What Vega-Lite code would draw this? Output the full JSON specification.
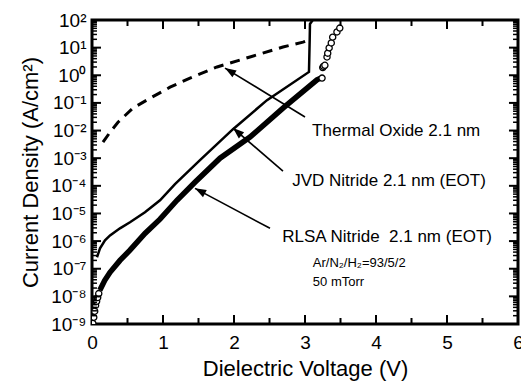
{
  "$schema": "https://vega.github.io/schema/vega-lite/v6.json",
  "width": 426,
  "height": 304,
  "autosize": {"type": "none"},
  "padding": {"left": 92, "top": 20, "right": 3, "bottom": 57},
  "background": "white",
  "config": {
    "font": "Liberation Sans",
    "view": {"stroke": "black", "strokeWidth": 3},
    "axis": {
      "domain": false,
      "ticks": false,
      "labelColor": "black",
      "titleColor": "black",
      "labelFont": "Liberation Sans",
      "titleFont": "Liberation Sans",
      "titleFontWeight": "normal",
      "grid": false
    }
  },
  "datasets": {
    "thermal": [
      {"v": 0.155, "j": 0.0038},
      {"v": 0.254, "j": 0.0087},
      {"v": 0.366, "j": 0.020},
      {"v": 0.577, "j": 0.065},
      {"v": 0.817, "j": 0.148},
      {"v": 1.099, "j": 0.37},
      {"v": 1.380, "j": 0.79},
      {"v": 1.761, "j": 2.0},
      {"v": 2.225, "j": 4.6},
      {"v": 2.690, "j": 10.5},
      {"v": 2.972, "j": 15.8},
      {"v": 3.05, "j": 18.6}
    ],
    "jvd": [
      {"v": 0.070, "j": 2.6e-7},
      {"v": 0.113, "j": 5.5e-7},
      {"v": 0.183, "j": 1.07e-6},
      {"v": 0.254, "j": 1.6e-6},
      {"v": 0.394, "j": 2.9e-6},
      {"v": 0.535, "j": 4.8e-6},
      {"v": 0.746, "j": 1.1e-5},
      {"v": 0.958, "j": 3.0e-5},
      {"v": 1.169, "j": 1.15e-4},
      {"v": 1.521, "j": 8.5e-4},
      {"v": 1.986, "j": 1.12e-2},
      {"v": 2.465, "j": 0.126},
      {"v": 3.056, "j": 1.32},
      {"v": 3.066, "j": 19},
      {"v": 3.07, "j": 72},
      {"v": 3.11, "j": 100}
    ],
    "rlsa": [
      {"v": 0.11, "j": 1.66e-8},
      {"v": 0.18, "j": 3.8e-8},
      {"v": 0.254, "j": 7.4e-8},
      {"v": 0.394, "j": 2.0e-7},
      {"v": 0.535, "j": 4.7e-7},
      {"v": 0.746, "j": 1.9e-6},
      {"v": 0.958, "j": 6.2e-6},
      {"v": 1.197, "j": 3.0e-5},
      {"v": 1.45, "j": 1.35e-4},
      {"v": 1.803, "j": 1.0e-3},
      {"v": 2.225, "j": 5.8e-3},
      {"v": 2.690, "j": 6.5e-2},
      {"v": 3.169, "j": 0.68},
      {"v": 3.22, "j": 0.79}
    ],
    "rlsaPts": [
      {"v": 0.012, "j": 1.05e-9},
      {"v": 0.025, "j": 1.74e-9},
      {"v": 0.038, "j": 2.9e-9},
      {"v": 0.05, "j": 4.7e-9},
      {"v": 0.065, "j": 6.6e-9},
      {"v": 0.08, "j": 9.1e-9},
      {"v": 0.095, "j": 1.26e-8},
      {"v": 3.24, "j": 0.79},
      {"v": 3.25, "j": 1.9},
      {"v": 3.26, "j": 2.1},
      {"v": 3.28, "j": 2.3},
      {"v": 3.31, "j": 4.6},
      {"v": 3.32, "j": 6.3},
      {"v": 3.34, "j": 9.8},
      {"v": 3.37, "j": 14.8},
      {"v": 3.39, "j": 24},
      {"v": 3.45, "j": 37},
      {"v": 3.49, "j": 51}
    ],
    "notes": [
      {"v": 3.10, "j": 1.0e-2, "text": "Thermal Oxide 2.1 nm"},
      {"v": 2.82, "j": 1.5e-4, "text": "JVD Nitride 2.1 nm (EOT)"},
      {"v": 2.68, "j": 1.4e-6, "text": "RLSA Nitride\u00a0 2.1 nm (EOT)"}
    ],
    "smallNotes": [
      {"v": 3.11, "j": 1.6e-7, "text": "Ar/N₂/H₂=93/5/2"},
      {"v": 3.11, "j": 3.2e-8, "text": "50 mTorr"}
    ],
    "arrows": [
      {"name": "thermal", "v": 3.0, "j": 0.031, "v2": 1.873, "j2": 1.82},
      {"name": "jvd", "v": 2.69, "j": 3.4e-4, "v2": 1.986, "j2": 1.23e-2},
      {"name": "rlsa", "v": 2.507, "j": 2.9e-6, "v2": 1.451, "j2": 8.1e-5}
    ],
    "voltTicksMajor": [{"v": 1}, {"v": 2}, {"v": 3}, {"v": 4}, {"v": 5}],
    "voltTicksMinor": [{"v": 0.5}, {"v": 1.5}, {"v": 2.5}, {"v": 3.5}, {"v": 4.5}, {"v": 5.5}],
    "densTicksMajor": [
      {"j": 1e-8}, {"j": 1e-7}, {"j": 1e-6}, {"j": 1e-5}, {"j": 1e-4},
      {"j": 1e-3}, {"j": 1e-2}, {"j": 1e-1}, {"j": 1}, {"j": 10}
    ],
    "densTicksMinor": [
      {"j": 2e-9}, {"j": 3e-9}, {"j": 4e-9}, {"j": 5e-9}, {"j": 6e-9}, {"j": 7e-9}, {"j": 8e-9}, {"j": 9e-9},
      {"j": 2e-8}, {"j": 3e-8}, {"j": 4e-8}, {"j": 5e-8}, {"j": 6e-8}, {"j": 7e-8}, {"j": 8e-8}, {"j": 9e-8},
      {"j": 2e-7}, {"j": 3e-7}, {"j": 4e-7}, {"j": 5e-7}, {"j": 6e-7}, {"j": 7e-7}, {"j": 8e-7}, {"j": 9e-7},
      {"j": 2e-6}, {"j": 3e-6}, {"j": 4e-6}, {"j": 5e-6}, {"j": 6e-6}, {"j": 7e-6}, {"j": 8e-6}, {"j": 9e-6},
      {"j": 2e-5}, {"j": 3e-5}, {"j": 4e-5}, {"j": 5e-5}, {"j": 6e-5}, {"j": 7e-5}, {"j": 8e-5}, {"j": 9e-5},
      {"j": 2e-4}, {"j": 3e-4}, {"j": 4e-4}, {"j": 5e-4}, {"j": 6e-4}, {"j": 7e-4}, {"j": 8e-4}, {"j": 9e-4},
      {"j": 2e-3}, {"j": 3e-3}, {"j": 4e-3}, {"j": 5e-3}, {"j": 6e-3}, {"j": 7e-3}, {"j": 8e-3}, {"j": 9e-3},
      {"j": 2e-2}, {"j": 3e-2}, {"j": 4e-2}, {"j": 5e-2}, {"j": 6e-2}, {"j": 7e-2}, {"j": 8e-2}, {"j": 9e-2},
      {"j": 0.2}, {"j": 0.3}, {"j": 0.4}, {"j": 0.5}, {"j": 0.6}, {"j": 0.7}, {"j": 0.8}, {"j": 0.9},
      {"j": 2}, {"j": 3}, {"j": 4}, {"j": 5}, {"j": 6}, {"j": 7}, {"j": 8}, {"j": 9},
      {"j": 20}, {"j": 30}, {"j": 40}, {"j": 50}, {"j": 60}, {"j": 70}, {"j": 80}, {"j": 90}
    ]
  },
  "layer": [
    {
      "data": {"name": "jvd"},
      "mark": {"type": "line", "color": "black", "strokeWidth": 2.5, "clip": true},
      "encoding": {
        "x": {
          "field": "v", "type": "quantitative",
          "scale": {"domain": [0, 6], "nice": false, "zero": false},
          "axis": {
            "orient": "bottom",
            "values": [0, 1, 2, 3, 4, 5, 6],
            "format": "d",
            "labelFontSize": 19,
            "labelPadding": 9,
            "labelOverlap": false,
            "labelFlush": false,
            "title": "Dielectric Voltage (V)",
            "titleFontSize": 22,
            "titlePadding": 6
          }
        },
        "y": {
          "field": "j", "type": "quantitative",
          "scale": {"type": "log", "domain": [1e-9, 100], "nice": false},
          "axis": {
            "orient": "left",
            "values": [1e-9, 1e-8, 1e-7, 1e-6, 1e-5, 1e-4, 1e-3, 1e-2, 1e-1, 1, 10, 100],
            "labelExpr": "['10⁻⁹','10⁻⁸','10⁻⁷','10⁻⁶','10⁻⁵','10⁻⁴','10⁻³','10⁻²','10⁻¹','10⁰','10¹','10²'][round(log(datum.value)/LN10) + 9]",
            "labelFontSize": 19,
            "labelPadding": 6,
            "labelOverlap": false,
            "labelFlush": false,
            "title": "Current Density (A/cm²)",
            "titleFontSize": 22,
            "titlePadding": 8
          }
        }
      }
    },
    {
      "data": {"name": "thermal"},
      "mark": {"type": "line", "color": "black", "strokeWidth": 3, "strokeDash": [10, 7], "clip": true},
      "encoding": {
        "x": {"field": "v", "type": "quantitative"},
        "y": {"field": "j", "type": "quantitative"}
      }
    },
    {
      "data": {"name": "rlsa"},
      "mark": {"type": "line", "color": "black", "strokeWidth": 5.5, "clip": true},
      "encoding": {
        "x": {"field": "v", "type": "quantitative"},
        "y": {"field": "j", "type": "quantitative"}
      }
    },
    {
      "data": {"name": "rlsaPts"},
      "mark": {"type": "point", "shape": "circle", "filled": false, "fill": "white", "stroke": "black", "strokeWidth": 1.3, "size": 38, "opacity": 1, "clip": true},
      "encoding": {
        "x": {"field": "v", "type": "quantitative"},
        "y": {"field": "j", "type": "quantitative"}
      }
    },
    {
      "data": {"name": "voltTicksMajor"},
      "mark": {"type": "rule", "color": "black", "strokeWidth": 2},
      "encoding": {"x": {"field": "v", "type": "quantitative"}, "y": {"datum": 1e-9}, "y2": {"datum": 2.12e-9}}
    },
    {
      "data": {"name": "voltTicksMajor"},
      "mark": {"type": "rule", "color": "black", "strokeWidth": 2},
      "encoding": {"x": {"field": "v", "type": "quantitative"}, "y": {"datum": 100}, "y2": {"datum": 47.2}}
    },
    {
      "data": {"name": "voltTicksMinor"},
      "mark": {"type": "rule", "color": "black", "strokeWidth": 2},
      "encoding": {"x": {"field": "v", "type": "quantitative"}, "y": {"datum": 1e-9}, "y2": {"datum": 1.65e-9}}
    },
    {
      "data": {"name": "voltTicksMinor"},
      "mark": {"type": "rule", "color": "black", "strokeWidth": 2},
      "encoding": {"x": {"field": "v", "type": "quantitative"}, "y": {"datum": 100}, "y2": {"datum": 60.6}}
    },
    {
      "data": {"name": "densTicksMajor"},
      "mark": {"type": "rule", "color": "black", "strokeWidth": 2},
      "encoding": {"y": {"field": "j", "type": "quantitative"}, "x": {"datum": 0}, "x2": {"datum": 0.127}}
    },
    {
      "data": {"name": "densTicksMajor"},
      "mark": {"type": "rule", "color": "black", "strokeWidth": 2},
      "encoding": {"y": {"field": "j", "type": "quantitative"}, "x": {"datum": 6}, "x2": {"datum": 5.873}}
    },
    {
      "data": {"name": "densTicksMinor"},
      "mark": {"type": "rule", "color": "black", "strokeWidth": 1.5},
      "encoding": {"y": {"field": "j", "type": "quantitative"}, "x": {"datum": 0}, "x2": {"datum": 0.07}}
    },
    {
      "data": {"name": "densTicksMinor"},
      "mark": {"type": "rule", "color": "black", "strokeWidth": 1.5},
      "encoding": {"y": {"field": "j", "type": "quantitative"}, "x": {"datum": 6}, "x2": {"datum": 5.93}}
    },
    {
      "data": {"name": "arrows"},
      "mark": {"type": "rule", "color": "black", "strokeWidth": 1.6},
      "encoding": {
        "x": {"field": "v", "type": "quantitative"},
        "y": {"field": "j", "type": "quantitative"},
        "x2": {"field": "v2"},
        "y2": {"field": "j2"}
      }
    },
    {
      "data": {"name": "arrows"},
      "transform": [{"filter": "datum.name == 'thermal'"}],
      "mark": {"type": "point", "shape": "M0,0L0.36,1L-0.36,1Z", "filled": true, "color": "black", "opacity": 1, "size": 500, "angle": 301.5},
      "encoding": {
        "x": {"field": "v2", "type": "quantitative"},
        "y": {"field": "j2", "type": "quantitative"}
      }
    },
    {
      "data": {"name": "arrows"},
      "transform": [{"filter": "datum.name == 'jvd'"}],
      "mark": {"type": "point", "shape": "M0,0L0.36,1L-0.36,1Z", "filled": true, "color": "black", "opacity": 1, "size": 500, "angle": 310.7},
      "encoding": {
        "x": {"field": "v2", "type": "quantitative"},
        "y": {"field": "j2", "type": "quantitative"}
      }
    },
    {
      "data": {"name": "arrows"},
      "transform": [{"filter": "datum.name == 'rlsa'"}],
      "mark": {"type": "point", "shape": "M0,0L0.36,1L-0.36,1Z", "filled": true, "color": "black", "opacity": 1, "size": 500, "angle": 298},
      "encoding": {
        "x": {"field": "v2", "type": "quantitative"},
        "y": {"field": "j2", "type": "quantitative"}
      }
    },
    {
      "data": {"name": "notes"},
      "mark": {"type": "text", "align": "left", "baseline": "middle", "fontSize": 17, "color": "black"},
      "encoding": {
        "x": {"field": "v", "type": "quantitative"},
        "y": {"field": "j", "type": "quantitative"},
        "text": {"field": "text"}
      }
    },
    {
      "data": {"name": "smallNotes"},
      "mark": {"type": "text", "align": "left", "baseline": "middle", "fontSize": 13, "color": "black"},
      "encoding": {
        "x": {"field": "v", "type": "quantitative"},
        "y": {"field": "j", "type": "quantitative"},
        "text": {"field": "text"}
      }
    }
  ]
}
